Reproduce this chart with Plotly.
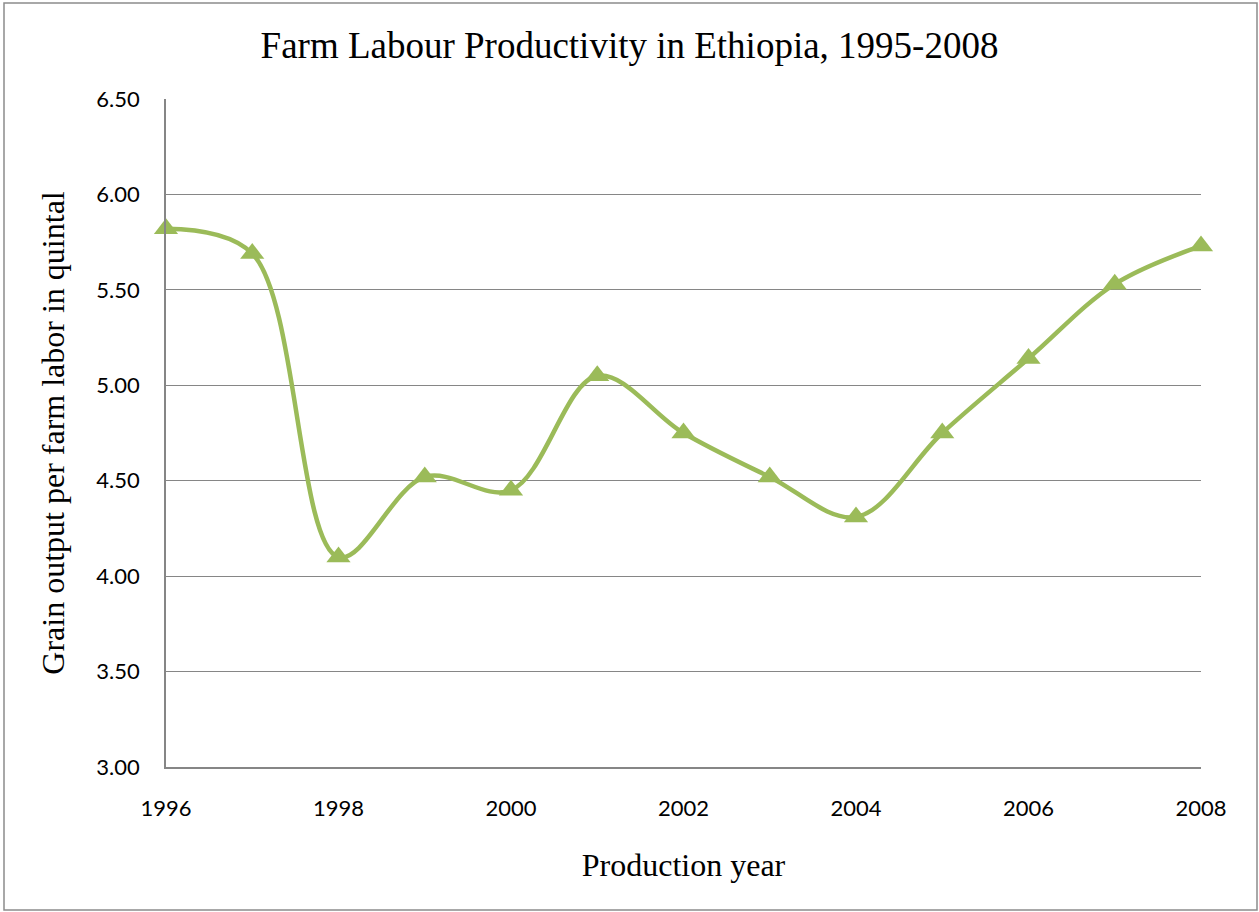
import plotly.graph_objects as go

years = [1996, 1997, 1998, 1999, 2000, 2001, 2002, 2003, 2004, 2005, 2006, 2007, 2008]
productivity = [5.82, 5.69, 4.10, 4.52, 4.45, 5.05, 4.75, 4.52, 4.31, 4.75, 5.14, 5.53, 5.73]
y_ticks = [3.0, 3.5, 4.0, 4.5, 5.0, 5.5, 6.0, 6.5]
x_ticks = [1996, 1998, 2000, 2002, 2004, 2006, 2008]

W, H = 1259, 912
L, R, T, B = 166, 58, 99, 145
pw, ph = W - L - R, H - T - B

fig = go.Figure()
fig.add_trace(go.Scatter(
    x=years, y=productivity, mode="lines+markers",
    line=dict(color="#9BBB59", width=4.5, shape="spline", smoothing=1.0),
    marker=dict(symbol="triangle-up", size=21, color="#9BBB59"),
    cliponaxis=False, showlegend=False,
))

def px_to_paper_x(p):
    return (p - L) / pw

def py_to_paper_y(p):
    return (H - B - p) / ph

fig.add_shape(type="rect", xref="paper", yref="paper",
              x0=px_to_paper_x(4), x1=px_to_paper_x(1257),
              y0=py_to_paper_y(910), y1=py_to_paper_y(3),
              line=dict(color="#8C8C8C", width=1.5), fillcolor="rgba(0,0,0,0)", layer="below")

fig.update_layout(
    width=W, height=H,
    margin=dict(l=L, r=R, t=T, b=B),
    paper_bgcolor="white", plot_bgcolor="white",
    title=dict(text="Farm Labour Productivity in Ethiopia, 1995-2008",
               font=dict(family="Liberation Serif", size=37, color="black"),
               x=0.5, xanchor="center", y=1 - 45 / H, yanchor="middle"),
    xaxis=dict(range=[1996, 2008], tickvals=x_ticks, ticktext=[str(v) for v in x_ticks],
               showgrid=False, zeroline=False, showline=True, linecolor="#868686", linewidth=1.5,
               ticks="", ticklabelstandoff=21, tickfont=dict(family="Lato", size=22, color="black"),
               title=dict(text="Production year", font=dict(family="Liberation Serif", size=32, color="black"),
                          standoff=33)),
    yaxis=dict(range=[3, 6.5], tickvals=y_ticks, ticktext=[f"{v:.2f}" for v in y_ticks],
               showgrid=True, gridcolor="#868686", gridwidth=1.2, zeroline=False,
               showline=True, linecolor="#868686", linewidth=1.5,
               ticks="", ticklabelstandoff=20, tickfont=dict(family="Lato", size=22, color="black"),
               title=dict(text="Grain output per farm labor in quintal",
                          font=dict(family="Liberation Serif", size=32, color="black"), standoff=22)),
)

fig.write_html("out.html")
